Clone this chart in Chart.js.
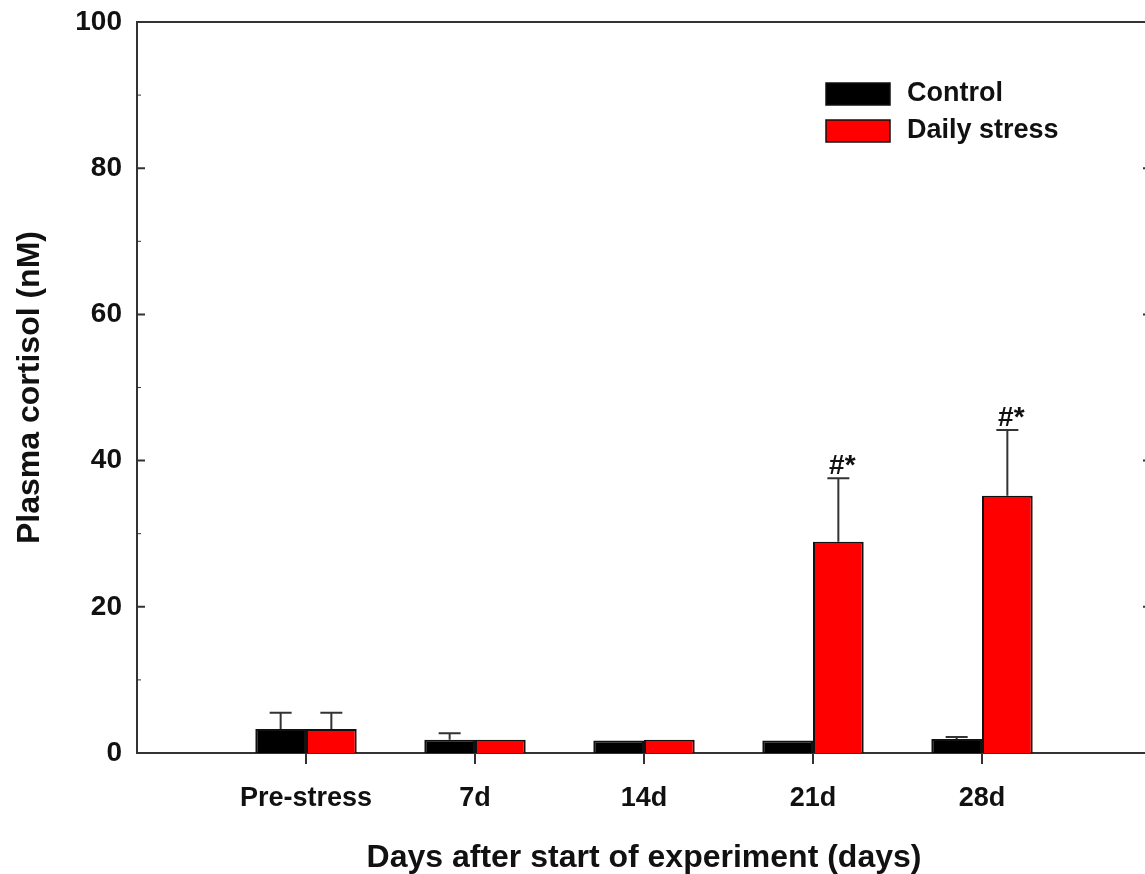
<!DOCTYPE html>
<html>
<head>
<meta charset="utf-8">
<title>Plasma cortisol</title>
<script src="https://cdn.jsdelivr.net/npm/chart.js@4.4.1/dist/chart.umd.min.js"></script>
<style>
  html, body { margin: 0; padding: 0; background: #fff; overflow: hidden; }
  canvas { display: block; }
</style>
</head>
<body>
<canvas id="chart" width="1165" height="874"></canvas>
<script>
// categories along the x axis (placed at 1..5 on a 0..6 axis)
const categories = ["Pre-stress", "7d", "14d", "21d", "28d"];
const seriesNames = ["Control", "Daily stress"];

const controlMeans = [3.3, 1.8, 1.7, 1.7, 1.9];
const controlErr = [2.2, 0.9, 0, 0, 0.3];
const stressMeans = [3.3, 1.8, 1.8, 28.9, 35.2];
const stressErr = [2.2, 0, 0, 8.7, 9.0];
const stressMarks = ["", "", "", "#*", "#*"];

const yTicks = [0, 20, 40, 60, 80, 100];

const FONT = "'Liberation Sans', Arial, sans-serif";
const AXIS = "#333";

const toPoints = (vals) => vals.map((v, i) => ({ x: i + 1, y: v }));

// error bars, inner ticks, frame and legend
const extras = {
  id: "extras",
  afterDatasetsDraw(chart) {
    const ctx = chart.ctx;
    const area = chart.chartArea;
    const y = chart.scales.y;
    const x = chart.scales.x;

    ctx.save();
    ctx.strokeStyle = AXIS;
    ctx.lineWidth = 2;
    ctx.beginPath();
    ctx.moveTo(area.left, area.top);
    ctx.lineTo(area.right, area.top);
    ctx.lineTo(area.right, area.bottom);
    ctx.stroke();

    // y ticks pointing inward on both sides
    for (let v = 0; v <= 100; v += 10) {
      const py = y.getPixelForValue(v);
      const len = v % 20 === 0 ? 8 : 4;
      ctx.lineWidth = v % 20 === 0 ? 2 : 1;
      ctx.beginPath();
      ctx.moveTo(area.left, py);
      ctx.lineTo(area.left + len, py);
      ctx.moveTo(area.right, py);
      ctx.lineTo(area.right - len, py);
      ctx.stroke();
    }

    // x ticks below the axis
    ctx.lineWidth = 2;
    categories.forEach((c, i) => {
      const px = x.getPixelForValue(i + 1);
      ctx.beginPath();
      ctx.moveTo(px, area.bottom);
      ctx.lineTo(px, area.bottom + 11);
      ctx.stroke();
    });

    // error bars
    const errs = [controlErr, stressErr];
    const means = [controlMeans, stressMeans];
    chart.data.datasets.forEach((ds, d) => {
      const meta = chart.getDatasetMeta(d);
      meta.data.forEach((bar, i) => {
        if (!errs[d][i]) return;
        const top = y.getPixelForValue(means[d][i]);
        const cap = y.getPixelForValue(means[d][i] + errs[d][i]);
        ctx.lineWidth = 2;
        ctx.strokeStyle = AXIS;
        ctx.beginPath();
        ctx.moveTo(bar.x, top);
        ctx.lineTo(bar.x, cap);
        ctx.moveTo(bar.x - 11, cap);
        ctx.lineTo(bar.x + 11, cap);
        ctx.stroke();
      });
    });

    // significance marks
    const stressMeta = chart.getDatasetMeta(1);
    ctx.fillStyle = "#111";
    ctx.font = "bold 28px " + FONT;
    ctx.textAlign = "center";
    ctx.textBaseline = "alphabetic";
    stressMarks.forEach((m, i) => {
      if (!m) return;
      const cap = y.getPixelForValue(stressMeans[i] + stressErr[i]);
      ctx.fillText(m, stressMeta.data[i].x + 4, cap - 4);
    });

    // legend
    const colors = ["#000000", "#ff0000"];
    ctx.font = "bold 27px " + FONT;
    ctx.textAlign = "left";
    ctx.textBaseline = "middle";
    seriesNames.forEach((name, i) => {
      const top = 83 + i * 37;
      ctx.fillStyle = colors[i];
      ctx.fillRect(826, top, 64, 22);
      ctx.lineWidth = 1.5;
      ctx.strokeStyle = "#111";
      ctx.strokeRect(826, top, 64, 22);
      ctx.fillStyle = "#111";
      ctx.fillText(name, 907, top + 11);
    });
    ctx.restore();
  },
};

new Chart(document.getElementById("chart"), {
  type: "bar",
  data: {
    datasets: [
      {
        label: seriesNames[0],
        data: toPoints(controlMeans),
        backgroundColor: "#000000",
        borderColor: "#111",
        borderWidth: 2,
        categoryPercentage: 0.6,
        barPercentage: 1.0,
      },
      {
        label: seriesNames[1],
        data: toPoints(stressMeans),
        backgroundColor: "#ff0000",
        borderColor: "#111",
        borderWidth: 2,
        categoryPercentage: 0.6,
        barPercentage: 1.0,
      },
    ],
  },
  options: {
    responsive: false,
    animation: false,
    devicePixelRatio: 1,
    layout: { padding: { top: 22, right: 14, bottom: 0, left: 0 } },
    plugins: {
      legend: { display: false },
      tooltip: { enabled: false },
    },
    scales: {
      x: {
        type: "linear",
        min: 0,
        max: 6,
        offset: false,
        // tickLength only spaces the labels; the marks are drawn by the plugin
        grid: { display: false, drawTicks: true, tickLength: 29 },
        border: { display: true, color: AXIS, width: 2 },
        ticks: {
          stepSize: 1,
          autoSkip: false,
          maxRotation: 0,
          padding: 0,
          color: "#111",
          font: { family: FONT, size: 27, weight: "bold" },
          callback: (v) => categories[v - 1] || "",
        },
        title: {
          display: true,
          text: "Days after start of experiment (days)",
          color: "#111",
          padding: { top: 0, bottom: 0 },
          font: { family: FONT, size: 32, weight: "bold", lineHeight: 1 },
        },
        afterFit: (s) => { s.height = 121; },
      },
      y: {
        min: 0,
        max: 100,
        grid: { display: false, drawTicks: true, tickLength: 15 },
        border: { display: true, color: AXIS, width: 2 },
        afterBuildTicks: (s) => { s.ticks = yTicks.map((v) => ({ value: v })); },
        ticks: {
          padding: 0,
          color: "#111",
          font: { family: FONT, size: 28, weight: "bold" },
        },
        title: {
          display: true,
          text: "Plasma cortisol (nM)",
          color: "#111",
          padding: { top: 14, bottom: 0 },
          font: { family: FONT, size: 32, weight: "bold", lineHeight: 1 },
        },
        afterFit: (s) => { s.width = 137; },
      },
    },
  },
  plugins: [extras],
});
</script>
</body>
</html>
